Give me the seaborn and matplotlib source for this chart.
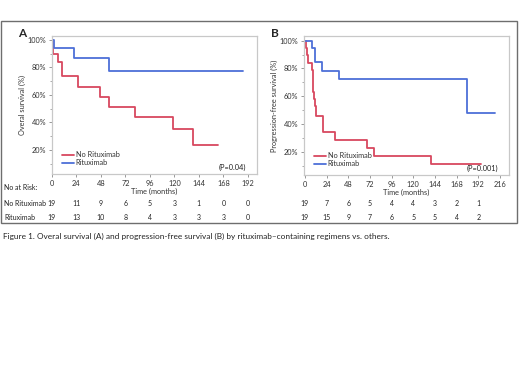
import numpy as np
import pandas as pd
import matplotlib
matplotlib.use("Agg")
import matplotlib.pyplot as plt
import seaborn as sns
from matplotlib.patches import Rectangle

# ---- data ----
groups = ["No Rituximab", "Rituximab"]
os_no_t = [0, 1.3, 6.2, 9.5, 25.8, 47, 55.8, 81.3, 118.9, 137.8, 163]
os_no_s = [100, 89.5, 84.0, 73.5, 65.8, 58.5, 51.3, 43.8, 35.1, 23.6, 23.6]
os_rx_t = [0, 2.3, 21.8, 55.8, 187]
os_rx_s = [100, 94.4, 87.0, 77.7, 77.7]

pfs_no_t = [0, 1, 2, 3, 7.4, 8.5, 9.5, 10.5, 11.5, 12.5, 20.3, 33, 68.3, 76.4, 140, 194.6]
pfs_no_s = [100, 94.7, 89.5, 84.2, 78.9, 68.4, 63.2, 57.9, 52.6, 45.6, 34.4, 28.5, 22.7, 17.1, 11.4, 11.4]
pfs_rx_t = [0, 7.4, 11, 19.2, 37.7, 179, 211]
pfs_rx_s = [100, 94.5, 84.4, 78.4, 72.2, 48.1, 48.1]

ticks_a = [0, 24, 48, 72, 96, 120, 144, 168, 192]
ticks_b = [0, 24, 48, 72, 96, 120, 144, 168, 192, 216]
risk_times = [0, 24, 48, 72, 96, 120, 144, 168, 192]
risk_a_no = [19, 11, 9, 6, 5, 3, 1, 0, 0]
risk_a_rx = [19, 13, 10, 8, 4, 3, 3, 3, 0]
risk_b_no = [19, 7, 6, 5, 4, 4, 3, 2, 1]
risk_b_rx = [19, 15, 9, 7, 6, 5, 5, 4, 2]

yticks = [20, 40, 60, 80, 100]
palette = {"No Rituximab": "#d8485f", "Rituximab": "#4d6fd8"}

def make_df(t1, s1, t2, s2):
    return pd.concat([
        pd.DataFrame({"t": t1, "s": s1, "g": groups[0]}),
        pd.DataFrame({"t": t2, "s": s2, "g": groups[1]}),
    ], ignore_index=True)

df_a = make_df(os_no_t, os_no_s, os_rx_t, os_rx_s)
df_b = make_df(pfs_no_t, pfs_no_s, pfs_rx_t, pfs_rx_s)

sns.set_style("white")
plt.rcParams["font.family"] = ["Lato", "DejaVu Sans"]

W, H = 520, 390
fig = plt.figure(figsize=(5.2, 3.9), dpi=100)

def fx(px):
    return px / W
def fy(py):
    return 1 - py / H

# outer box
fig.patches.append(Rectangle((fx(1), fy(223)), fx(517) - fx(1), fy(21) - fy(223),
                             transform=fig.transFigure, fill=False,
                             edgecolor="#6e6e6e", linewidth=1.0))

tick_col = "#333333"
txt_col = "#222222"

def setup(ax, df, xlim, ylim, xticks, ylabel, ptext):
    sns.lineplot(data=df, x="t", y="s", hue="g", palette=palette,
                 drawstyle="steps-post", linewidth=1.3, ax=ax,
                 estimator=None, sort=False)
    ax.set_xlim(*xlim)
    ax.set_ylim(*ylim)
    ax.set_xticks(xticks)
    ax.set_xticklabels([str(v) for v in xticks], fontsize=5.3, color=tick_col)
    ax.set_yticks(yticks)
    ax.set_yticklabels([f"{v}%" for v in yticks], fontsize=5.3, color=tick_col)
    ax.set_yticks([10, 30, 50, 70, 90], minor=True)
    ax.tick_params(axis="both", which="major", length=2.5, width=0.6,
                   color="#888888", pad=1.5, left=True, bottom=True)
    ax.tick_params(axis="y", which="minor", length=1.5, width=0.5,
                   color="#888888", left=True)
    for sp in ax.spines.values():
        sp.set_color("#c8c8c8")
        sp.set_linewidth(0.9)
    ax.set_xlabel("Time (months)", fontsize=5.3, color=tick_col, labelpad=1)
    ax.set_ylabel(ylabel, fontsize=5.3, color=tick_col, labelpad=1.5)
    h, l = ax.get_legend_handles_labels()
    ax.legend(h, l, loc="lower left", bbox_to_anchor=(0.035, 0.035), frameon=False,
              fontsize=5.3, handlelength=1.6, handletextpad=0.25,
              labelspacing=0.12, borderaxespad=0.0, labelcolor=tick_col)
    ax.text(0.947, 0.046, ptext, transform=ax.transAxes, ha="right", va="center",
            fontsize=5.3, color=txt_col)

ax_a = fig.add_axes([fx(52), fy(174), fx(257) - fx(52), fy(36) - fy(174)])
setup(ax_a, df_a, (0, 201), (2.5, 102.9), ticks_a, "Overal survival (%)", "(P=0.04)")
ax_b = fig.add_axes([fx(304), fy(175), fx(509) - fx(304), fy(36) - fy(175)])
setup(ax_b, df_b, (-1, 226), (3.2, 103.4), ticks_b, "Progression-free survival (%)", "(P=0.001)")

fig.text(fx(18.5), fy(37), "A", fontsize=8.5, fontweight="bold", ha="left", va="baseline")
fig.text(fx(271), fy(37), "B", fontsize=8.5, fontweight="bold", ha="left", va="baseline")

# risk tables
fs_tab = 5.0
fig.text(fx(4), fy(187), "No at Risk:", fontsize=fs_tab, ha="left", va="center", color=txt_col)
fig.text(fx(4), fy(204), "No Rituximab", fontsize=fs_tab, ha="left", va="center", color=txt_col)
fig.text(fx(4), fy(218), "Rituximab", fontsize=fs_tab, ha="left", va="center", color=txt_col)

def risk_row(ax, times, vals, ypx):
    for t, v in zip(times, vals):
        xd = ax.transData.transform((t, 0))[0]
        xf = fig.transFigure.inverted().transform((xd, 0))[0]
        fig.text(xf, fy(ypx), str(v), fontsize=fs_tab, ha="center", va="center", color=txt_col)

fig.canvas.draw()
risk_row(ax_a, risk_times, risk_a_no, 204)
risk_row(ax_a, risk_times, risk_a_rx, 218)
risk_row(ax_b, risk_times, risk_b_no, 204)
risk_row(ax_b, risk_times, risk_b_rx, 218)

fig.text(fx(3), fy(236),
         "Figure 1. Overal survival (A) and progression-free survival (B) by rituximab\u2013containing regimens vs. others.",
         fontsize=5.95, ha="left", va="center", color=txt_col)

fig.savefig("out.png", dpi=100)
